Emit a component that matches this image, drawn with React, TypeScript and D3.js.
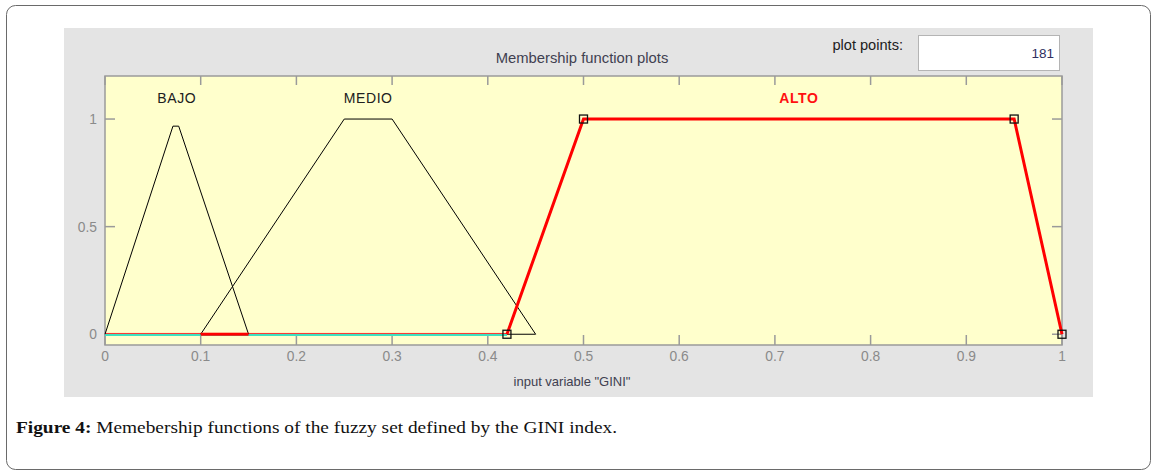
import React from "react";
import * as d3 from "d3";

const xTicks = [0, 0.1, 0.2, 0.3, 0.4, 0.5, 0.6, 0.7, 0.8, 0.9, 1];
const yTicks = [0, 0.5, 1];
const mfNames = ["BAJO", "MEDIO", "ALTO"];
const mfCenters = [0.075, 0.275, 0.725];
const bajoX = [0, 0.071, 0.077, 0.15];
const bajoY = [0, 0.967, 0.967, 0];
const medioX = [0.1, 0.25, 0.3, 0.45];
const medioY = [0, 1, 1, 0];
const altoX = [0.42, 0.5, 0.95, 1];
const altoY = [0, 1, 1, 0];
const zeroLineX = [0, 0.42];
const blackZeroX = [0, 0.45];
const altoZeroSeg = [0.1, 0.15];

const W = 1159;
const H = 474;

export default function App() {
  const x = d3.scaleLinear().domain([0, 1]).range([105, 1062]);
  const y = d3.scaleLinear().domain([-0.05, 1.2]).range([345, 76]);
  const line = d3
    .line<[number, number]>()
    .x((d) => x(d[0]))
    .y((d) => y(d[1]));
  const pts = (xs: number[], ys: number[]) =>
    xs.map((v, i) => [v, ys[i]] as [number, number]);

  const font = "'Liberation Sans', Arial, sans-serif";
  const tickCol = "#9a9a9a";
  const labCol = "#8a8a8a";
  const [x0, x1] = x.range();
  const [yb, yt] = y.range();

  return (
    <svg
      width={W}
      height={H}
      style={{ position: "absolute", left: 0, top: 0, background: "#fff" }}
    >
      <rect
        x={6.5}
        y={5.5}
        width={1144}
        height={464}
        rx={9}
        fill="#fff"
        stroke="#6a6a6a"
        strokeWidth={1}
      />
      {/* GUI panel */}
      <rect x={64} y={28} width={1029} height={369} fill="#e4e4e4" />
      <text
        x={582}
        y={63}
        textAnchor="middle"
        fontFamily={font}
        fontSize={14.8}
        fill="#404050"
      >
        Membership function plots
      </text>
      <text
        x={903}
        y={50}
        textAnchor="end"
        fontFamily={font}
        fontSize={14.6}
        fill="#202020"
      >
        plot points:
      </text>
      <rect
        x={918.5}
        y={35.5}
        width={141}
        height={35}
        fill="#fff"
        stroke="#b4b4b4"
      />
      <text
        x={1054}
        y={58}
        textAnchor="end"
        fontFamily={font}
        fontSize={13.5}
        fill="#303060"
      >
        181
      </text>

      {/* plot area */}
      <rect
        x={x0}
        y={yt}
        width={x1 - x0}
        height={yb - yt}
        fill="#ffffcc"
        stroke={tickCol}
        strokeWidth={1.5}
      />
      {xTicks.map((t) => (
        <g key={"xt" + t}>
          <line x1={x(t)} x2={x(t)} y1={yb} y2={yb - 10} stroke={tickCol} strokeWidth={1.5} />
          <line x1={x(t)} x2={x(t)} y1={yt} y2={yt + 9} stroke={tickCol} strokeWidth={1.5} />
          <text
            x={x(t)}
            y={361}
            textAnchor="middle"
            fontFamily={font}
            fontSize={13.8}
            fill={labCol}
          >
            {String(t)}
          </text>
        </g>
      ))}
      {yTicks.map((t) => (
        <g key={"yt" + t}>
          <line x1={x0} x2={x0 + 10} y1={y(t)} y2={y(t)} stroke={tickCol} strokeWidth={1.5} />
          <line x1={x1} x2={x1 - 10} y1={y(t)} y2={y(t)} stroke={tickCol} strokeWidth={1.5} />
          <text
            x={97}
            y={y(t) + 5}
            textAnchor="end"
            fontFamily={font}
            fontSize={13.8}
            fill={labCol}
          >
            {String(t)}
          </text>
        </g>
      ))}
      <text
        x={572}
        y={386}
        textAnchor="middle"
        fontFamily={font}
        fontSize={13}
        fill="#404050"
      >
        input variable "GINI"
      </text>

      {/* MF labels */}
      {mfNames.map((n, i) => (
        <text
          key={n}
          x={x(mfCenters[i])}
          y={103}
          textAnchor="middle"
          fontFamily={font}
          fontSize={14}
          letterSpacing={0.6}
          fill={n === "ALTO" ? "#ff1010" : "#202020"}
          fontWeight={n === "ALTO" ? 700 : 400}
        >
          {n}
        </text>
      ))}

      {/* zero lines */}
      <line
        x1={x(blackZeroX[0])}
        x2={x(blackZeroX[1])}
        y1={y(0)}
        y2={y(0)}
        stroke="#000"
        strokeWidth={1}
      />
      <line
        x1={x(zeroLineX[0])}
        x2={x(zeroLineX[1])}
        y1={y(0) + 0.8}
        y2={y(0) + 0.8}
        stroke="#3ee0c0"
        strokeWidth={2}
      />
      <line
        x1={x(zeroLineX[0])}
        x2={x(zeroLineX[1])}
        y1={y(0) - 0.8}
        y2={y(0) - 0.8}
        stroke="#ff3030"
        strokeWidth={1}
      />
      <path d={line(pts(bajoX, bajoY)) || ""} fill="none" stroke="#000" strokeWidth={1} />
      <path d={line(pts(medioX, medioY)) || ""} fill="none" stroke="#000" strokeWidth={1} />
      <line
        x1={x(altoZeroSeg[0])}
        x2={x(altoZeroSeg[1])}
        y1={y(0)}
        y2={y(0)}
        stroke="#ff0000"
        strokeWidth={3}
      />
      <path
        d={line(pts(altoX, altoY)) || ""}
        fill="none"
        stroke="#ff0000"
        strokeWidth={3}
      />
      {altoX.map((v, i) => (
        <rect
          key={"m" + i}
          x={x(v) - 4}
          y={y(altoY[i]) - 4}
          width={8}
          height={8}
          fill="none"
          stroke="#111"
          strokeWidth={1.3}
        />
      ))}

      {/* caption */}
      <text
        x={16}
        y={433}
        fontFamily="'Liberation Serif', 'Times New Roman', serif"
        fontSize={17.5}
        fill="#111"
        textLength={601}
        lengthAdjust="spacingAndGlyphs"
      >
        <tspan fontWeight={700}>Figure 4:</tspan>
        <tspan> Memebership functions of the fuzzy set defined by the GINI index.</tspan>
      </text>
    </svg>
  );
}
